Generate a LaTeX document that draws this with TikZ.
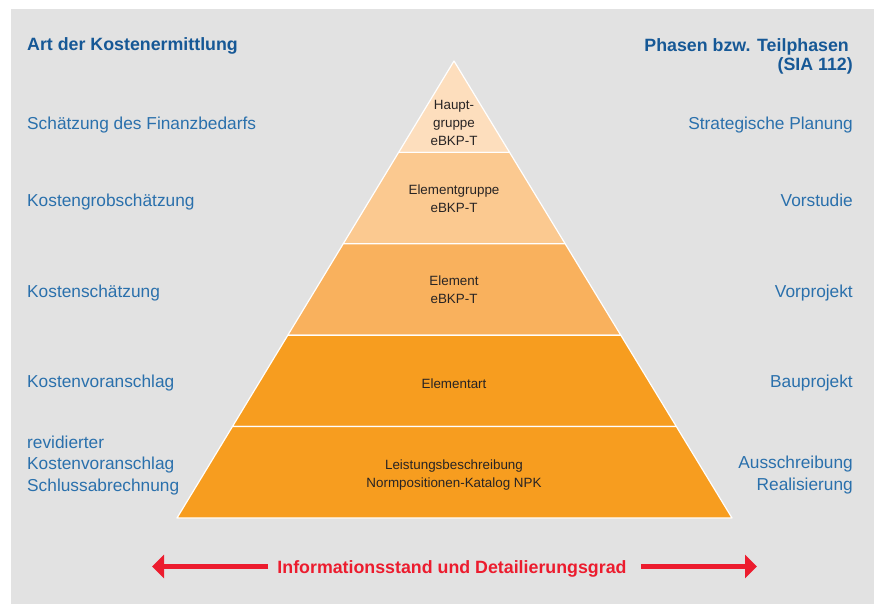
\documentclass[tikz,border=0pt]{standalone}
\usepackage{fontspec}
\setmainfont{Liberation Sans}
\usetikzlibrary{arrows.meta,calc,positioning}

\definecolor{bggray}{RGB}{226,226,226}
\definecolor{headblue}{RGB}{22,88,150}
\definecolor{textblue}{RGB}{42,112,172}
\definecolor{infored}{RGB}{236,28,46}
\definecolor{stufedark}{RGB}{40,36,36}
\definecolor{lay1}{RGB}{253,222,189}
\definecolor{lay2}{RGB}{251,201,144}
\definecolor{lay3}{RGB}{249,177,93}
\definecolor{lay4}{RGB}{247,157,31}

\begin{document}
\begin{tikzpicture}[x=1pt, y=-1pt, >={Triangle[length=12pt,width=23pt]},
    head/.style={inner sep=0pt, text=headblue, font=\fontsize{17.8}{19.5}\selectfont\bfseries},
    kost/.style={inner sep=0pt, anchor=base west, text=textblue, font=\fontsize{17.3}{21.5}\selectfont},
    phase/.style={inner sep=0pt, anchor=base east, align=right, text=textblue, font=\fontsize{17.3}{21.5}\selectfont},
    stufe/.style={inner sep=0pt, anchor=base, align=center, text=stufedark, font=\fontsize{13.4}{18}\selectfont},
    info/.style={inner sep=0pt, anchor=base, text=infored, font=\fontsize{17.8}{20}\selectfont\bfseries}]

    \useasboundingbox (0,0) rectangle (874,604);
    \fill[bggray] (11,9) rectangle (874,604);

    % pyramid
    \coordinate (apex) at (454,61);
    \coordinate (bl)   at (177,518);
    \coordinate (br)   at (732,518);
    \foreach \col [count=\i from 0, evaluate=\i as \ta using \i/5, evaluate=\i as \tb using (\i+1)/5]
            in {lay1,lay2,lay3,lay4,lay4}
        \filldraw[fill=\col, draw=white, line width=1.2pt, line join=round]
            ($(apex)!\ta!(bl)$) -- ($(apex)!\tb!(bl)$) -- ($(apex)!\tb!(br)$) -- ($(apex)!\ta!(br)$) -- cycle;

    % last line of a node sits on the given y
    \node[stufe]                (s1) at (454,146) {Haupt-\\gruppe\\eBKP-T};
    \node[stufe]                (s2) at (454,212) {Elementgruppe\\eBKP-T};
    \node[stufe]                (s3) at (454,303) {Element\\eBKP-T};
    \node[stufe]                (s4) at (454,388) {Elementart};
    \node[stufe]                (s5) at (454,487) {Leistungsbeschreibung\\Normpositionen-Katalog NPK};

    % left column
    \node[head, anchor=base west]             (art)  at (27,51)  {Art der Kostenermittlung};
    \node[kost]                 (k1) at (27,130) {Schätzung des Finanzbedarfs};
    \node[kost]                 (k2) at (27,206) {Kostengrobschätzung};
    \node[kost]                 (k3) at (27,297) {Kostenschätzung};
    \node[kost]                 (k4) at (27,387) {Kostenvoranschlag};
    \node[kost, align=left]     (k5) at (27,491) {revidierter\\Kostenvoranschlag\\Schlussabrechnung};

    % right column
    \node[head, anchor=base east, align=right] (sia) at (853,71) {Phasen bzw. Teilphasen\hspace*{4pt}\\(SIA 112)};
    \node[phase]                (p1) at (853,130) {Strategische Planung};
    \node[phase]                (p2) at (853,206) {Vorstudie};
    \node[phase]                (p3) at (853,297) {Vorprojekt};
    \node[phase]                (p4) at (853,387) {Bauprojekt};
    \node[phase]                (p5) at (853,490) {Ausschreibung\\Realisierung};

    % arrow
    \node[info]                 (grad) at (452,573) {Informationsstand und Detailierungsgrad};
    \coordinate (arrl) at (152,566.5);
    \coordinate (arrr) at (757,566.5);
    \draw[->, infored, line width=5pt] ([xshift=-9pt]grad.west |- arrl) -- (arrl);
    \draw[->, infored, line width=5pt] ([xshift=14pt]grad.east |- arrr) -- (arrr);
\end{tikzpicture}
\end{document}
